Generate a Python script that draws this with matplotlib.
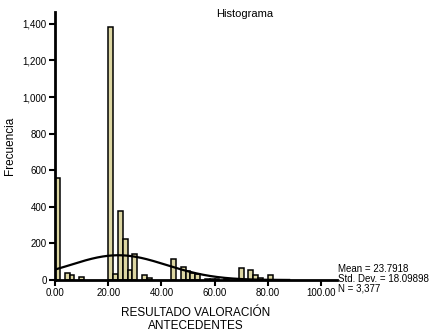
import numpy as np
import matplotlib
matplotlib.use('Agg')
import matplotlib.pyplot as plt

plt.rcParams['font.family'] = ['Liberation Sans', 'DejaVu Sans']

# histogram bins (SPSS style, 55 bins over 0-100)
bin_width = 20.0 / 11
bin_index = [0, 2, 3, 5, 11, 12, 13, 14, 15, 16, 18, 19,
             24, 26, 27, 28, 29, 31, 32, 33, 35,
             38, 40, 41, 42, 44]
counts = [555, 40, 25, 15, 1385, 33, 377, 224, 55, 142, 26, 12,
          115, 73, 49, 36, 31, 8, 5, 4, 3,
          68, 55, 27, 10, 27]

mean = 23.7918
std_dev = 18.09898
n_total = 3377

fig = plt.figure(figsize=(4.33, 3.36), dpi=100)
ax = fig.add_axes([55/433, 1 - 280/336, (337-55)/433, (280-12)/336])

lefts = np.array(bin_index) * bin_width
ax.bar(lefts, counts, width=bin_width, align='edge', color='#dcd6a2',
       edgecolor='black', linewidth=1.1, zorder=2)

# fitted normal curve
xs = np.linspace(0, 88, 300)
ys = n_total * bin_width / (std_dev * np.sqrt(2 * np.pi)) * np.exp(-0.5 * ((xs - mean) / std_dev) ** 2)
ax.plot(xs, ys, color='black', linewidth=1.6, zorder=3)

ax.set_xlim(0, 106)
ax.set_ylim(0, 1465)
ax.set_xticks([0, 20, 40, 60, 80, 100])
ax.set_xticklabels(['0.00', '20.00', '40.00', '60.00', '80.00', '100.00'])
ax.set_yticks(range(0, 1401, 200))
ax.set_yticklabels(['0', '200', '400', '600', '800', '1,000', '1,200', '1,400'])
ax.tick_params(labelsize=7, width=1.5, length=4, pad=2)

for s in ['top', 'right']:
    ax.spines[s].set_visible(False)
for s in ['left', 'bottom']:
    ax.spines[s].set_linewidth(2)

ax.set_ylabel('Frecuencia', fontsize=8.5, labelpad=5)
ax.set_xlabel('RESULTADO VALORACIÓN\nANTECEDENTES', fontsize=8.5, labelpad=6, linespacing=1.1)

fig.text(245/433, 1 - 14/336, 'Histograma', fontsize=8, ha='center', va='center')
fig.text(338/433, 1 - 279/336, 'Mean = 23.7918\nStd. Dev. = 18.09898\nN = 3,377',
         fontsize=7, ha='left', va='center', linespacing=0.95)

fig.savefig('out.png', dpi=100)
